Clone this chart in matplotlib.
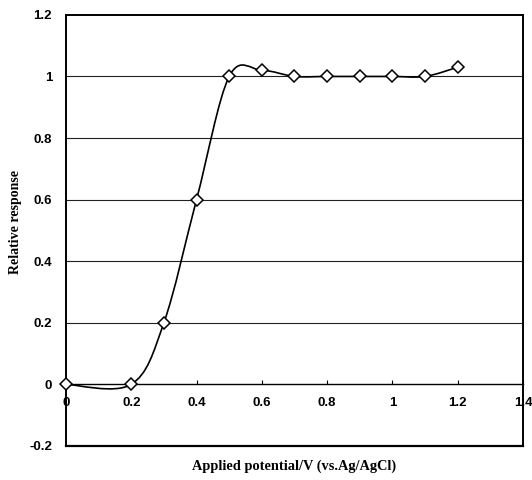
import matplotlib.pyplot as plt
import numpy as np
from matplotlib.path import Path
from matplotlib.patches import PathPatch

# data
potential = [0.0, 0.2, 0.3, 0.4, 0.5, 0.6, 0.7, 0.8, 0.9, 1.0, 1.1, 1.2]
response = [0.0, 0.0, 0.2, 0.6, 1.0, 1.02, 1.0, 1.0, 1.0, 1.0, 1.0, 1.03]
xticks = [0, 0.2, 0.4, 0.6, 0.8, 1, 1.2, 1.4]
xticklabels = ["0", "0.2", "0.4", "0.6", "0.8", "1", "1.2", "1.4"]
yticks = [-0.2, 0, 0.2, 0.4, 0.6, 0.8, 1, 1.2]
yticklabels = ["-0.2", "0", "0.2", "0.4", "0.6", "0.8", "1", "1.2"]


def smooth_path(xs, ys):
    # excel-like smoothed line: cubic bezier, catmull-rom tangents
    pts = np.column_stack([xs, ys])
    n = len(pts)
    verts = [pts[0]]
    codes = [Path.MOVETO]
    for i in range(n - 1):
        p0 = pts[max(i - 1, 0)]
        p1 = pts[i]
        p2 = pts[i + 1]
        p3 = pts[min(i + 2, n - 1)]
        c1 = p1 + (p2 - p0) / 6.0
        c2 = p2 - (p3 - p1) / 6.0
        verts += [c1, c2, p2]
        codes += [Path.CURVE4] * 3
    return Path(verts, codes)


fig = plt.figure(figsize=(5.32, 4.8), dpi=100)
ax = fig.add_axes([0.124, 0.071, 0.859, 0.898])

ax.set_xlim(0, 1.4)
ax.set_ylim(-0.2, 1.2)

for g in [0.2, 0.4, 0.6, 0.8, 1.0]:
    ax.axhline(g, color="#222222", lw=0.8, zorder=1)

ax.add_patch(PathPatch(smooth_path(potential, response), facecolor="none",
                       edgecolor="black", lw=1.2, zorder=3))
ax.plot(potential, response, linestyle="none", marker="D", ms=6.5,
        mfc="white", mec="black", mew=1.1, zorder=4, clip_on=False)

# x axis crosses at y = 0, plot-area frame stays around
ax.spines["bottom"].set_position(("data", 0))
ax.axhline(-0.2, color="black", lw=1.6, clip_on=False, zorder=2)
for s in ["left", "right", "top"]:
    ax.spines[s].set_linewidth(1.4)
ax.spines["bottom"].set_linewidth(1.0)

ax.set_xticks(xticks)
ax.set_xticklabels(xticklabels, fontfamily="Liberation Sans",
                   fontweight="bold", fontsize=9.5)
ax.set_yticks(yticks)
ax.set_yticklabels(yticklabels, fontfamily="Liberation Sans",
                   fontweight="bold", fontsize=9.5)
ax.tick_params(axis="x", direction="in", length=3, pad=9)
ax.tick_params(axis="y", length=0, pad=10)

fig.text(0.552, 0.029, "Applied potential/V (vs.Ag/AgCl)",
         fontfamily="Liberation Serif", fontweight="bold", fontsize=10.4,
         ha="center", va="center")
fig.text(0.029, 0.537, "Relative response", rotation=90,
         fontfamily="Liberation Serif", fontweight="bold", fontsize=10,
         ha="center", va="center")

fig.savefig("out.png", dpi=100)
